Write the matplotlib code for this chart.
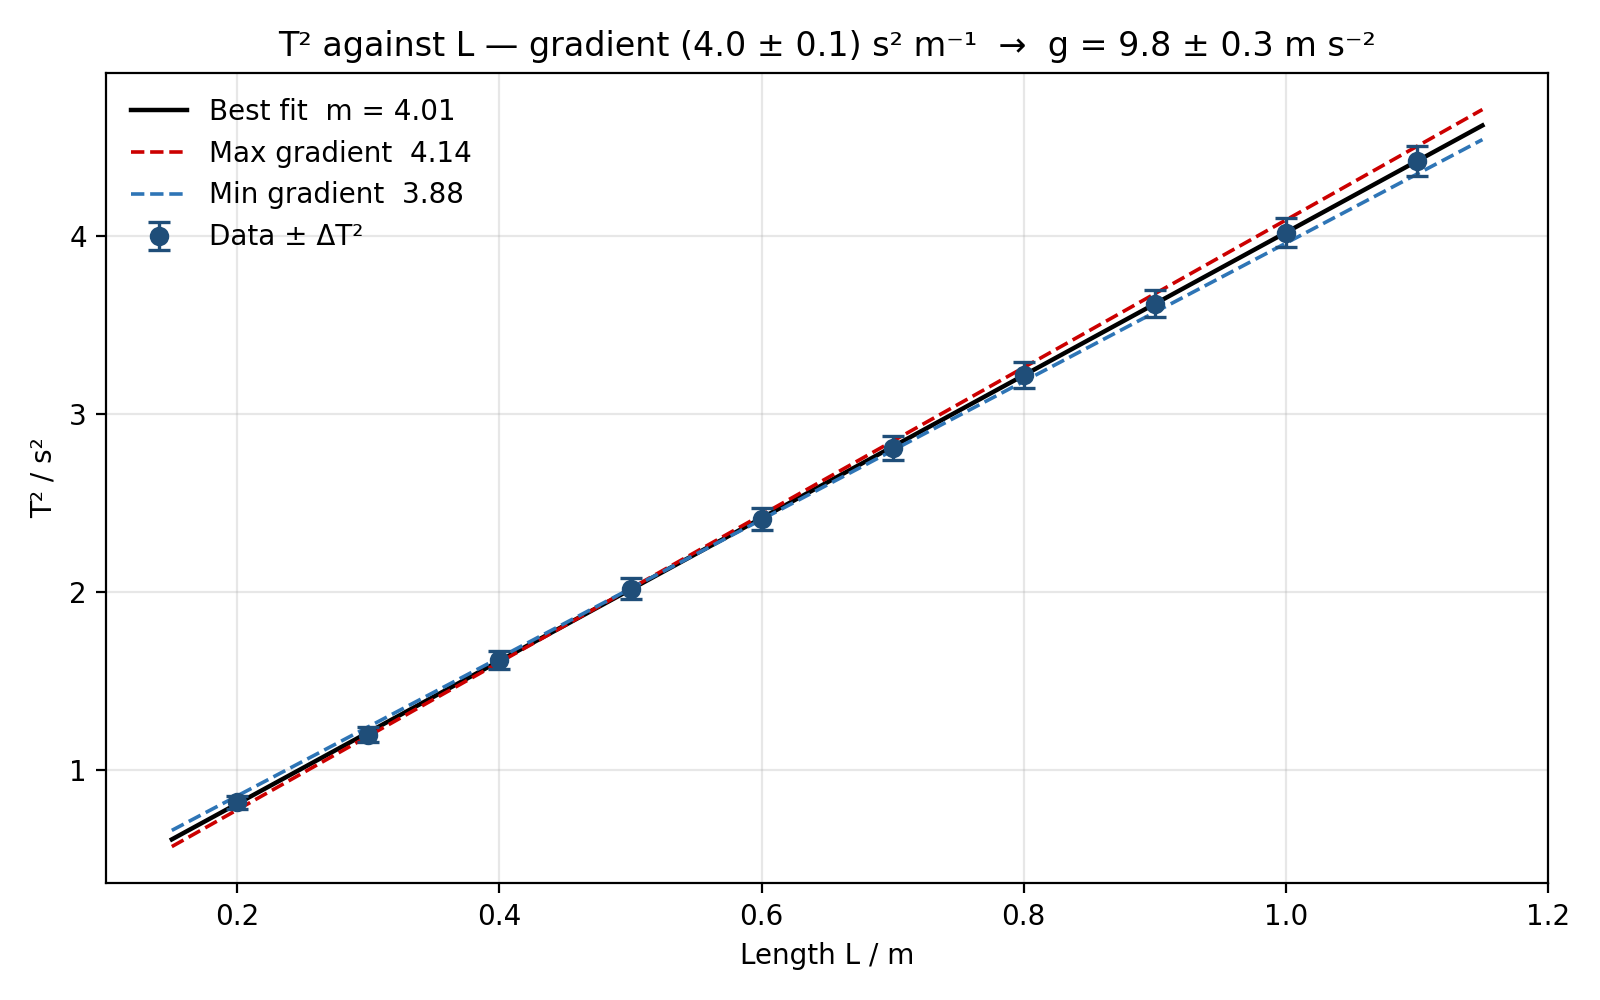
import numpy as np
import matplotlib.pyplot as plt

# pendulum data
length = [0.2, 0.3, 0.4, 0.5, 0.6, 0.7, 0.8, 0.9, 1.0, 1.1]
t_squared = [0.82, 1.20, 1.62, 2.02, 2.41, 2.81, 3.22, 3.62, 4.02, 4.42]
t_squared_err = [0.036, 0.044, 0.051, 0.057, 0.062, 0.067, 0.072, 0.076, 0.080, 0.084]

# straight lines: (gradient, intercept)
best_fit = (4.01, 0.01)
max_fit = (4.14, -0.05)
min_fit = (3.88, 0.08)
line_range = (0.15, 1.15)

fig, ax = plt.subplots(figsize=(8, 5), dpi=200)

x_line = np.linspace(line_range[0], line_range[1], 50)

ax.plot(x_line, best_fit[0] * x_line + best_fit[1], color='black', lw=1.6,
        label=f'Best fit  m = {best_fit[0]:.2f}')
ax.plot(x_line, max_fit[0] * x_line + max_fit[1], color='#cc0000', lw=1.3,
        ls='--', label=f'Max gradient  {max_fit[0]:.2f}')
ax.plot(x_line, min_fit[0] * x_line + min_fit[1], color='#2e75b6', lw=1.3,
        ls='--', label=f'Min gradient  {min_fit[0]:.2f}')
ax.errorbar(length, t_squared, yerr=t_squared_err, fmt='o', color='#1f4e79',
            ms=6, capsize=4, elinewidth=1.2, capthick=1.2, label='Data ± ΔT²')

ax.set_xlim(0.1, 1.2)
ax.set_xlabel('Length L / m')
ax.set_ylabel('T² / s²')
ax.set_title('T² against L — gradient (4.0 ± 0.1) s² m⁻¹  →  g = 9.8 ± 0.3 m s⁻²',
             fontsize=12)
ax.grid(True, alpha=0.3)
ax.legend(loc='upper left', frameon=False)

fig.tight_layout()
fig.savefig('out.png')
